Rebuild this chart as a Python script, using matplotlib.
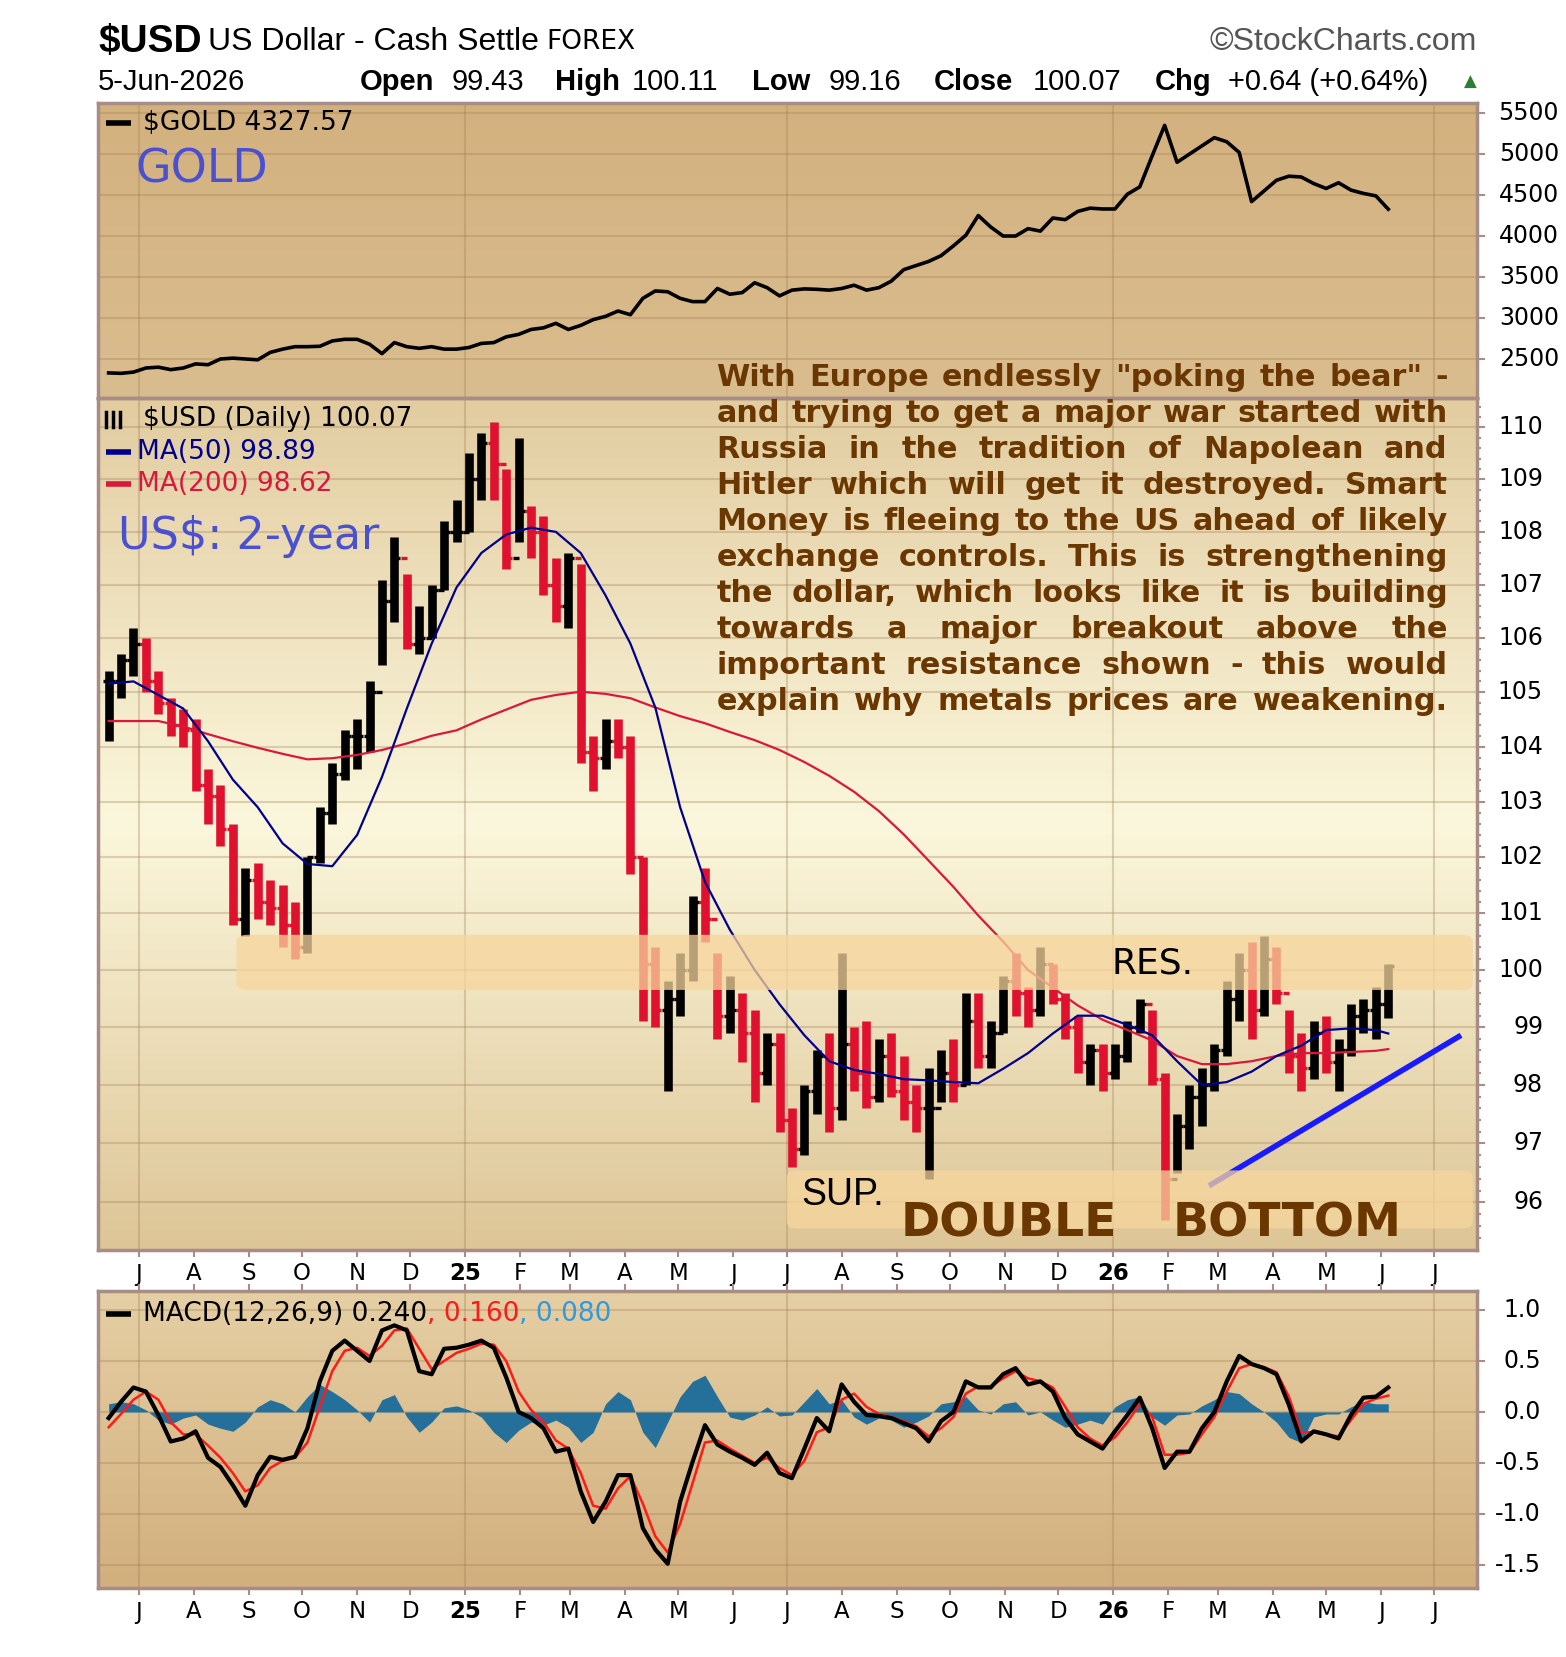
import numpy as np
import pandas as pd
import matplotlib
matplotlib.use("Agg")
import matplotlib.pyplot as plt
import matplotlib.dates as mdates
from matplotlib.patches import FancyBboxPatch
from matplotlib.ticker import FixedLocator, NullFormatter

# ---------- Data (weekly) ----------
week_dates = pd.date_range("2024-06-14", periods=104, freq="W-FRI")

usd_high = [
    105.4, 105.7, 106.2, 106.0, 105.4, 104.9, 104.7, 104.5, 103.6, 103.3,
    102.6, 101.8, 101.9, 101.6, 101.5, 101.2, 102.0, 102.9, 103.7, 104.3,
    104.5, 105.2, 107.1, 107.9, 107.2, 106.6, 107.0, 108.2, 108.6, 109.5,
    109.9, 110.1, 109.2, 109.8, 108.5, 108.3, 107.5, 107.6, 107.4, 104.2,
    104.5, 104.5, 104.2, 102.0, 100.4, 99.8, 100.3, 101.3, 101.8, 100.3,
    99.9, 99.6, 99.3, 98.9, 98.9, 97.6, 98.0, 98.6, 98.9, 100.3,
    99.0, 99.1, 98.8, 98.9, 98.5, 98.0, 98.3, 98.6, 98.8, 99.6,
    99.6, 99.1, 99.9, 100.3, 99.7, 100.4, 100.1, 99.6, 99.2, 98.7,
    98.7, 98.7, 99.1, 99.5, 99.3, 98.2, 97.5, 98.0, 98.3, 98.7,
    99.8, 100.3, 100.5, 100.6, 100.4, 99.3, 98.9, 99.1, 99.2, 98.8,
    99.4, 99.5, 99.7, 100.11,
]
usd_low = [
    104.1, 104.9, 105.3, 105.0, 104.6, 104.2, 104.0, 103.2, 102.6, 102.2,
    100.8, 100.6, 100.9, 100.8, 100.4, 100.2, 100.3, 101.9, 102.6, 103.4,
    103.6, 103.9, 105.5, 106.3, 105.8, 105.7, 106.0, 106.9, 107.8, 108.0,
    108.6, 108.6, 107.3, 107.8, 107.5, 106.8, 106.3, 106.2, 103.7, 103.2,
    103.6, 103.8, 101.7, 99.1, 99.0, 97.9, 99.2, 99.8, 100.5, 98.8,
    98.9, 98.4, 97.7, 98.0, 97.2, 96.6, 96.8, 97.5, 97.2, 97.4,
    97.9, 97.6, 97.7, 97.8, 97.4, 97.2, 96.4, 97.7, 97.7, 98.0,
    98.3, 98.3, 98.9, 99.2, 99.0, 99.2, 99.4, 98.8, 98.2, 98.0,
    97.9, 98.1, 98.4, 98.9, 98.0, 95.7, 96.5, 96.9, 97.3, 97.9,
    98.5, 99.1, 98.8, 99.2, 99.4, 98.2, 97.9, 98.1, 98.2, 97.9,
    98.5, 98.9, 98.8, 99.16,
]
usd_close = [
    105.2, 105.6, 105.9, 105.2, 104.8, 104.4, 104.3, 103.3, 103.1, 102.5,
    100.9, 101.6, 101.2, 101.1, 100.8, 100.4, 102.0, 102.8, 103.5, 104.2,
    104.2, 105.0, 106.7, 107.5, 105.9, 106.0, 106.9, 108.0, 108.0, 109.0,
    109.7, 109.3, 107.5, 108.4, 108.0, 107.0, 106.6, 107.5, 103.9, 103.8,
    104.1, 104.0, 102.0, 100.1, 99.3, 99.5, 100.0, 101.2, 100.9, 99.2,
    99.3, 98.9, 98.2, 98.7, 97.4, 96.9, 97.9, 98.5, 97.6, 98.7,
    98.2, 97.8, 98.5, 97.9, 97.7, 97.6, 97.6, 98.2, 98.0, 99.1,
    98.5, 98.9, 99.8, 99.6, 99.3, 100.1, 99.5, 99.0, 98.4, 98.6,
    98.2, 98.5, 99.0, 99.4, 98.1, 96.4, 97.3, 97.8, 98.0, 98.6,
    99.5, 100.0, 99.3, 100.2, 99.6, 98.5, 98.3, 98.9, 98.4, 98.6,
    99.2, 99.3, 99.4, 100.07,
]

# moving averages read every second week (plus the last bar)
ma_dates = list(week_dates[::2]) + [week_dates[-1]]
ma50 = [
    105.16, 105.2, 104.95, 104.7, 104.1, 103.4, 102.9, 102.25, 101.88, 101.84,
    102.4, 103.45, 104.7, 105.9, 106.95, 107.6, 107.95, 108.08, 108.0, 107.6,
    106.8, 105.9, 104.72, 102.9, 101.56, 100.71, 100.0, 99.4, 98.86, 98.41,
    98.26, 98.19, 98.1, 98.08, 98.05, 98.03, 98.28, 98.55, 98.89, 99.2,
    99.2, 99.04, 98.86, 98.41, 98.0, 98.05, 98.23, 98.5, 98.68, 98.95,
    98.98, 98.95, 98.89,
]
ma200 = [
    104.47, 104.47, 104.47, 104.37, 104.23, 104.1, 103.98, 103.87, 103.77, 103.79,
    103.85, 103.94, 104.06, 104.2, 104.3, 104.5, 104.68, 104.86, 104.95, 105.01,
    104.97, 104.89, 104.72, 104.56, 104.43, 104.27, 104.12, 103.94, 103.72, 103.47,
    103.18, 102.83, 102.41, 101.94, 101.47, 100.96, 100.5, 100.0, 99.69, 99.38,
    99.13, 98.95, 98.77, 98.5, 98.36, 98.36, 98.41, 98.5, 98.55, 98.55,
    98.57, 98.59, 98.62,
]

gold_close = [
    2330, 2325, 2340, 2390, 2400, 2370, 2390, 2440, 2430, 2500,
    2510, 2500, 2490, 2580, 2620, 2650, 2650, 2655, 2720, 2740,
    2740, 2680, 2565, 2700, 2650, 2630, 2650, 2620, 2620, 2640,
    2690, 2700, 2770, 2800, 2860, 2880, 2935, 2860, 2910, 2980,
    3020, 3085, 3040, 3240, 3330, 3320, 3240, 3200, 3200, 3360,
    3290, 3310, 3430, 3370, 3270, 3340, 3355, 3350, 3340, 3360,
    3400, 3340, 3370, 3450, 3590, 3640, 3690, 3760, 3880, 4010,
    4250, 4110, 4000, 4000, 4090, 4060, 4220, 4200, 4300, 4340,
    4330, 4330, 4510, 4600, 4980, 5350, 4900, 5000, 5100, 5200,
    5150, 5020, 4420, 4550, 4680, 4730, 4720, 4640, 4580, 4650,
    4560, 4520, 4490, 4327.57,
]

macd_line = [
    -0.06, 0.10, 0.24, 0.20, -0.03, -0.29, -0.26, -0.19, -0.45, -0.54,
    -0.72, -0.92, -0.62, -0.44, -0.47, -0.44, -0.16, 0.30, 0.60, 0.70,
    0.60, 0.50, 0.80, 0.85, 0.80, 0.40, 0.37, 0.62, 0.63, 0.66,
    0.70, 0.63, 0.34, 0.00, -0.06, -0.16, -0.39, -0.36, -0.78, -1.08,
    -0.88, -0.62, -0.62, -1.14, -1.35, -1.49, -0.88, -0.49, -0.13, -0.32,
    -0.39, -0.45, -0.52, -0.40, -0.60, -0.65, -0.36, -0.06, -0.19, 0.27,
    0.10, -0.03, -0.04, -0.06, -0.11, -0.16, -0.29, -0.09, 0.00, 0.30,
    0.24, 0.24, 0.37, 0.43, 0.27, 0.30, 0.20, -0.06, -0.22, -0.29,
    -0.36, -0.19, -0.03, 0.14, -0.16, -0.55, -0.39, -0.39, -0.16, 0.00,
    0.30, 0.55, 0.47, 0.43, 0.37, 0.07, -0.29, -0.19, -0.22, -0.26,
    -0.03, 0.14, 0.15, 0.24,
]
macd_signal = [
    -0.15, -0.02, 0.12, 0.20, 0.12, -0.10, -0.22, -0.22, -0.33, -0.45,
    -0.60, -0.78, -0.72, -0.55, -0.48, -0.45, -0.30, 0.05, 0.40, 0.60,
    0.63, 0.55, 0.65, 0.80, 0.82, 0.62, 0.42, 0.50, 0.58, 0.62,
    0.67, 0.66, 0.50, 0.20, 0.02, -0.10, -0.28, -0.36, -0.60, -0.92,
    -0.95, -0.75, -0.63, -0.90, -1.22, -1.38, -1.10, -0.70, -0.30, -0.28,
    -0.36, -0.43, -0.50, -0.45, -0.55, -0.62, -0.48, -0.20, -0.15, 0.12,
    0.18, 0.05, -0.02, -0.05, -0.09, -0.14, -0.24, -0.16, -0.05, 0.18,
    0.25, 0.25, 0.33, 0.40, 0.33, 0.30, 0.24, 0.05, -0.15, -0.26,
    -0.33, -0.25, -0.10, 0.08, -0.05, -0.42, -0.42, -0.40, -0.22, -0.05,
    0.20, 0.43, 0.47, 0.44, 0.39, 0.15, -0.20, -0.20, -0.22, -0.24,
    -0.08, 0.08, 0.13, 0.16,
]
macd_hist = [
    0.08, 0.10, 0.08, 0.02, -0.08, -0.12, -0.06, -0.03, -0.12, -0.16,
    -0.19, -0.10, 0.05, 0.12, 0.08, 0.00, 0.15, 0.27, 0.20, 0.12,
    0.02, -0.10, 0.12, 0.17, -0.05, -0.20, -0.10, 0.04, 0.06, 0.02,
    -0.05, -0.20, -0.30, -0.18, -0.10, -0.13, -0.08, -0.15, -0.30, -0.20,
    0.08, 0.20, 0.12, -0.20, -0.35, -0.10, 0.15, 0.30, 0.36, 0.15,
    -0.05, -0.08, -0.03, 0.05, -0.04, -0.03, 0.10, 0.23, 0.08, 0.12,
    -0.05, -0.12, -0.06, -0.08, -0.15, -0.10, -0.04, 0.08, 0.10, 0.15,
    0.02, -0.02, 0.08, 0.10, -0.03, 0.00, -0.08, -0.15, -0.12, -0.08,
    -0.12, 0.05, 0.12, 0.15, -0.05, -0.13, -0.03, -0.02, 0.06, 0.12,
    0.20, 0.18, 0.08, 0.00, -0.10, -0.25, -0.30, -0.05, -0.02, -0.02,
    0.05, 0.10, 0.08, 0.08,
]

trend_dates = pd.to_datetime(["2026-02-24", "2026-07-16"])
trend_vals = [96.28, 98.86]

res_zone = (99.65, 100.62)
sup_zone = (95.56, 96.54)
res_start = "2024-08-25"
sup_start = "2025-07-01"

gold_ticks = [2500, 3000, 3500, 4000, 4500, 5000, 5500]
usd_ticks = list(range(96, 111))
macd_ticks = [-1.5, -1.0, -0.5, 0.0, 0.5, 1.0]
macd_tick_labels = ["-1.5", "-1.0", "-0.5", "0.0", "0.5", "1.0"]

annotation_lines = [
    'With Europe endlessly "poking the bear" -',
    "and trying to get a major war started with",
    "Russia in the tradition of Napolean and",
    "Hitler which will get it destroyed. Smart",
    "Money is fleeing to the US ahead of likely",
    "exchange controls. This is strengthening",
    "the dollar, which looks like it is building",
    "towards a major breakout above the",
    "important resistance shown - this would",
    "explain why metals prices are weakening.",
]

# ---------- Styles ----------
FRAME = "#a88c86"
GRID = "#9c7a50"
BAR_RED = "#e0102f"
BROWN = "#6b3700"
NARROW = ["Liberation Sans", "DejaVu Sans"]
X_LIM = (mdates.datestr2num("2024-06-08"), mdates.datestr2num("2026-07-25"))

W_PX, H_PX = 1566, 1657
LEFT, RIGHT = 98, 1477


def fx(px):
    return px / W_PX


def ax_rect(top_px, bottom_px):
    """Figure-fraction rectangle for a panel given pixel top/bottom."""
    return [LEFT / W_PX, 1 - bottom_px / H_PX, (RIGHT - LEFT) / W_PX, (bottom_px - top_px) / H_PX]


def panel_background(fig, rect, stops):
    """Vertical gradient painted in a separate axes behind the panel."""
    bg = fig.add_axes(rect, zorder=-1)
    ys = np.linspace(0, 1, 256)
    pos = [s[0] for s in stops]
    cols = np.array([s[1] for s in stops]) / 255.0
    img = np.stack([np.interp(ys, pos, cols[:, i]) for i in range(3)], axis=-1)
    bg.imshow(img[:, None, :], aspect="auto", origin="lower", extent=(0, 1, 0, 1))
    bg.set_axis_off()


def style_panel(ax, yticks):
    """Frame, grid and right-hand tick marks shared by all panels."""
    ax.set_facecolor("none")
    for sp in ax.spines.values():
        sp.set_color(FRAME)
        sp.set_linewidth(2.5)
    ax.set_xlim(*X_LIM)
    ax.yaxis.set_major_locator(FixedLocator(yticks))
    ax.yaxis.set_major_formatter(NullFormatter())
    ax.yaxis.set_minor_formatter(NullFormatter())
    ax.tick_params(axis="y", which="both", left=False, right=True, labelleft=False,
                   labelright=False, direction="out", color=FRAME, width=1.5)
    ax.tick_params(axis="y", which="major", length=6)
    ax.tick_params(axis="y", which="minor", length=3)
    ax.grid(axis="y", which="major", color=GRID, alpha=0.3, lw=1.5)
    for d in ["2024-07-01", "2025-01-01", "2025-07-01", "2026-01-01", "2026-07-01"]:
        ax.axvline(mdates.datestr2num(d), color=GRID, alpha=0.3, lw=1.5, zorder=0.5)


def right_labels(ax, values, labels, x_right):
    """Right-aligned axis numbers drawn as text (StockCharts style)."""
    tr = ax.get_yaxis_transform()
    for v, lab in zip(values, labels):
        ax.text(x_right, v, lab, transform=tr, ha="right", va="center",
                fontsize=17, color="black", clip_on=False)


def month_ticks(ax):
    """Monthly ticks; January labelled with the bold two-digit year."""
    months = pd.date_range("2024-07-01", "2026-07-01", freq="MS")
    labels = [f"{m.year % 100}" if m.month == 1 else m.strftime("%b")[0] for m in months]
    ax.xaxis.set_major_locator(FixedLocator(mdates.date2num(months)))
    ax.set_xticklabels(labels)
    ax.tick_params(axis="x", direction="out", length=5, color=FRAME, width=1.5,
                   labelsize=16.5, pad=4)
    for t in ax.get_xticklabels():
        if t.get_text() in ("25", "26"):
            t.set_fontweight("bold")


def add_zone(ax, start, lo, hi):
    """Rounded translucent horizontal zone from `start` to the right edge."""
    to_axes = ax.transData + ax.transAxes.inverted()
    (x0, y0), (_, y1) = to_axes.transform([(mdates.datestr2num(start), lo), (X_LIM[1], hi)])
    y0 = max(y0, 0.0)
    patch = FancyBboxPatch((x0, y0), 0.997 - x0, y1 - y0,
                           boxstyle="round,pad=0,rounding_size=0.008",
                           transform=ax.transAxes, fc=(0.97, 0.84, 0.62), ec="none",
                           alpha=0.75, zorder=4)
    ax.add_patch(patch)


def legend_dash(ax, y, color, x0=0.006, x1=0.024, lw=4):
    ax.plot([x0, x1], [y, y], color=color, lw=lw, transform=ax.transAxes,
            solid_capstyle="butt", clip_on=False, zorder=6)


def commentary(fig, lines, x0, x1, y0_px, step_px, size=23):
    """Fully justified block of bold brown text, shrunk to fit if needed."""
    r = fig.canvas.get_renderer()
    kw = dict(fontweight="bold", color=BROWN, family="DejaVu Sans")
    probe = [fig.text(0, 0, l, fontsize=size, **kw) for l in lines]
    widest = max(p.get_window_extent(r).width for p in probe) / fig.bbox.width
    for p in probe:
        p.remove()
    if widest > (x1 - x0):
        size *= (x1 - x0) / widest * 0.99
    for i, line in enumerate(lines):
        y = 1 - (y0_px + i * step_px) / H_PX
        words = line.split()
        arts = [fig.text(0, y, w, va="center", ha="left", zorder=10, fontsize=size, **kw)
                for w in words]
        widths = [a.get_window_extent(r).width / fig.bbox.width for a in arts]
        gap = (x1 - x0 - sum(widths)) / max(len(words) - 1, 1)
        x = x0
        for a, w in zip(arts, widths):
            a.set_x(x)
            x += w + gap


# ---------- Build figure ----------
fig = plt.figure(figsize=(W_PX / 100, H_PX / 100), dpi=100)

r_gold = ax_rect(102.5, 398)
r_usd = ax_rect(398, 1250)
r_macd = ax_rect(1291, 1588)

panel_background(fig, r_gold, [(0, (218, 189, 143)), (1, (211, 177, 127))])
panel_background(fig, r_usd, [(0, (221, 197, 150)), (0.5, (251, 247, 220)), (1, (226, 204, 160))])
panel_background(fig, r_macd, [(0, (210, 175, 125)), (1, (229, 207, 164))])

ax_gold = fig.add_axes(r_gold)
ax_usd = fig.add_axes(r_usd)
ax_macd = fig.add_axes(r_macd)

dates = mdates.date2num(week_dates)

# --- Gold panel ---
ax_gold.plot(dates, gold_close, color="black", lw=2.6, zorder=3)
ax_gold.set_ylim(2024, 5629)
style_panel(ax_gold, gold_ticks)
right_labels(ax_gold, gold_ticks, [str(v) for v in gold_ticks], 1.0595)
ax_gold.tick_params(axis="x", bottom=False, labelbottom=False)
legend_dash(ax_gold, 0.932, "black")
ax_gold.text(0.0324, 0.932, f"$GOLD {gold_close[-1]:.2f}", transform=ax_gold.transAxes,
             fontsize=19, va="center", color="black")
ax_gold.text(0.027, 0.77, "GOLD", transform=ax_gold.transAxes, fontsize=33,
             va="center", color="#4a50d2")

# --- USD panel ---
ax_usd.set_yscale("log")
ax_usd.set_ylim(95.2, 110.57)
style_panel(ax_usd, usd_ticks)
ax_usd.yaxis.set_minor_locator(FixedLocator(np.arange(95.4, 110.5, 0.2)))
right_labels(ax_usd, usd_ticks, [str(v) for v in usd_ticks], 1.0479)

prev_close = np.r_[usd_close[0], usd_close[:-1]]
up = np.array(usd_close) >= prev_close
bar_cols = np.where(up, "black", BAR_RED)
ax_usd.vlines(dates, usd_low, usd_high, colors=bar_cols, lw=6.2, zorder=3)
ax_usd.hlines(prev_close, dates - 3.4, dates, colors=bar_cols, lw=2.4, zorder=3)
ax_usd.hlines(usd_close, dates, dates + 3.4, colors=bar_cols, lw=2.4, zorder=3)

ma_num = mdates.date2num(pd.DatetimeIndex(ma_dates))
ax_usd.plot(ma_num, ma200, color="#d8183c", lw=1.6, zorder=3.5)
ax_usd.plot(ma_num, ma50, color="#00008b", lw=1.6, zorder=3.5)
ax_usd.plot(mdates.date2num(trend_dates), trend_vals, color="#1a1aff", lw=4,
            solid_capstyle="butt", zorder=3.6)

add_zone(ax_usd, res_start, *res_zone)
add_zone(ax_usd, sup_start, *sup_zone)
month_ticks(ax_usd)

# legend
for x in [0.006, 0.011, 0.016]:
    ax_usd.plot([x, x], [0.966, 0.984], color="black", lw=2.5,
                transform=ax_usd.transAxes, zorder=6)
ax_usd.text(0.0324, 0.975, "$USD (Daily) 100.07", transform=ax_usd.transAxes,
            fontsize=19, va="center", color="black")
legend_dash(ax_usd, 0.937, "#00008b")
ax_usd.text(0.0283, 0.937, "MA(50) 98.89", transform=ax_usd.transAxes,
            fontsize=19, va="center", color="#00008b")
legend_dash(ax_usd, 0.899, "#d8183c")
ax_usd.text(0.0283, 0.899, "MA(200) 98.62", transform=ax_usd.transAxes,
            fontsize=19, va="center", color="#d8183c")
ax_usd.text(0.0147, 0.837, "US$: 2-year", transform=ax_usd.transAxes, fontsize=32,
            va="center", color="#4a50d2")

ax_usd.text(0.735, 0.336, "RES.", transform=ax_usd.transAxes, fontsize=26,
            va="center", color="black", zorder=7)
ax_usd.text(0.510, 0.064, "SUP.", transform=ax_usd.transAxes, fontsize=27,
            va="center", color="black", family=NARROW, zorder=7)
ax_usd.text(0.582, 0.031, "DOUBLE", transform=ax_usd.transAxes, fontsize=34,
            fontweight="bold", va="center", color=BROWN, zorder=7)
ax_usd.text(0.7795, 0.031, "BOTTOM", transform=ax_usd.transAxes, fontsize=34,
            fontweight="bold", va="center", color=BROWN, zorder=7)

# --- MACD panel ---
ax_macd.fill_between(dates, macd_hist, 0, color="#24709a", lw=0, zorder=2)
ax_macd.plot(dates, macd_signal, color="#ff1a1a", lw=1.8, zorder=3)
ax_macd.plot(dates, macd_line, color="black", lw=3, zorder=3.5)
ax_macd.set_ylim(-1.728, 1.187)
style_panel(ax_macd, macd_ticks)
right_labels(ax_macd, macd_ticks, macd_tick_labels, 1.0464)
month_ticks(ax_macd)
ax_macd.tick_params(axis="x", top=True)
legend_dash(ax_macd, 0.924, "black")
t1 = ax_macd.text(0.0324, 0.924, "MACD(12,26,9) 0.240", transform=ax_macd.transAxes,
                  fontsize=19, va="center", color="black")
fig.canvas.draw()
rend = fig.canvas.get_renderer()
bb = t1.get_window_extent(rend).transformed(ax_macd.transAxes.inverted())
t2 = ax_macd.text(bb.x1, 0.924, ", 0.160", transform=ax_macd.transAxes,
                  fontsize=19, va="center", color="#ff1a1a")
bb2 = t2.get_window_extent(rend).transformed(ax_macd.transAxes.inverted())
ax_macd.text(bb2.x1, 0.924, ", 0.080", transform=ax_macd.transAxes,
             fontsize=19, va="center", color="#3399dd")

# ---------- Header ----------
row1, row2 = 1 - 42 / H_PX, 1 - 82 / H_PX

fig.text(fx(98), row1, "$USD", fontsize=28, fontweight="bold", family=NARROW, va="center")
fig.text(fx(208), row1, "US Dollar - Cash Settle", fontsize=23, family=NARROW, va="center")
fig.text(fx(546), row1, "FOREX", fontsize=19, va="center")
fig.text(fx(1477), row1, "\u00a9StockCharts.com", fontsize=23, family=NARROW,
         va="center", ha="right", color="#555555")

fig.text(fx(98), row2, "5-Jun-2026", fontsize=21, family=NARROW, va="center")
header_items = [
    (360, "Open", True), (452, "99.43", False), (555, "High", True), (632, "100.11", False),
    (752, "Low", True), (829, "99.16", False), (934, "Close", True), (1033, "100.07", False),
    (1155, "Chg", True), (1228, "+0.64 (+0.64%)", False),
]
for x, s, bold in header_items:
    fig.text(fx(x), row2, s, fontsize=21, family=NARROW, va="center",
             fontweight="bold" if bold else "normal")
fig.text(fx(1477), row2, "\u25b2", fontsize=12, color="#2e7d32", va="center", ha="right")

# ---------- Commentary block ----------
commentary(fig, annotation_lines, fx(716.5), fx(1447.7), 377.2, 36.04)

fig.savefig("out.png", dpi=100, facecolor="white")
